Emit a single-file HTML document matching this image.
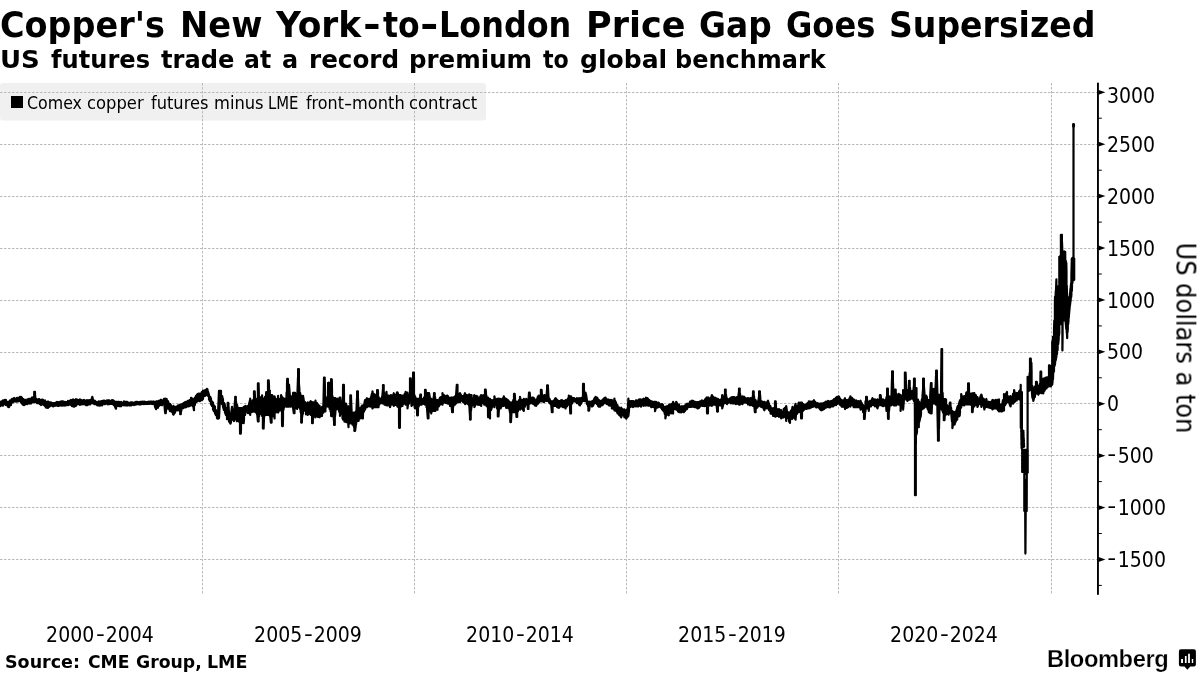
<!DOCTYPE html>
<html lang="en">
<head>
<meta charset="utf-8">
<title>Copper's New York-to-London Price Gap Goes Supersized</title>
<style>
html,body{margin:0;padding:0;background:#fff;}
body{width:1200px;height:675px;position:relative;overflow:hidden;font-family:"DejaVu Sans","Liberation Sans",sans-serif;color:#000;}
.abs{position:absolute;white-space:nowrap;line-height:1;will-change:transform;}
#title{left:0;top:7px;font-weight:bold;font-size:36px;width:1100px;height:40px;}
#subtitle{left:0;top:47.5px;font-weight:bold;font-size:24.83px;width:830px;height:28px;}
#title span,#subtitle span,#source span,#legend .tx span{position:absolute;top:0;transform-origin:0 0;white-space:nowrap;}
#legend{left:0;top:83px;width:486px;height:38px;}
#legend .sq{position:absolute;left:11px;top:13px;width:12px;height:12px;background:#000;}
#legend .tx{position:absolute;left:0;top:10.7px;width:486px;height:20px;font-family:"DejaVu Sans Condensed","DejaVu Sans","Liberation Sans",sans-serif;font-size:18px;line-height:1;white-space:nowrap;}
.ax{font-family:"DejaVu Sans Condensed","DejaVu Sans","Liberation Sans",sans-serif;font-size:21px;}
.xl{top:625px;width:212px;text-align:center;}
.xl i{font-style:normal;margin:0 2.4px;display:inline-block;transform:translateY(-1.2px) scaleX(1.3);}
.yl{left:1107px;}
.yl i{font-style:normal;margin-right:4px;display:inline-block;transform:translate(1.4px,-1.6px) scaleX(1.32);}
#ytitle{left:1184.5px;top:338.3px;font-size:26.8px;transform:translate(-50%,-50%) rotate(90deg);}
#source{left:0;top:653.5px;font-weight:bold;font-size:17.5px;width:260px;height:20px;}
#bb{left:1047px;top:648.3px;font-family:"Liberation Sans",sans-serif;font-weight:bold;font-size:23.7px;letter-spacing:-0.42px;-webkit-text-stroke:0.25px #fff;}
svg{position:absolute;left:0;top:0;}
</style>
</head>
<body>
<svg id="chart" width="1200" height="675" viewBox="0 0 1200 675">
<rect id="legendbg" x="0" y="83" width="486" height="37.6" rx="3" ry="3" fill="#f0f0f0"/>
<g id="grid" stroke="#bababa" stroke-width="1" stroke-dasharray="2.5,1.5" fill="none">
<path d="M0 92.5H1097M0 144.5H1097M0 196.5H1097M0 248.5H1097M0 300.5H1097M0 352.5H1097M0 403.5H1097M0 455.5H1097M0 507.5H1097M0 559.5H1097"/>
<path d="M202.5 83V595M414.5 83V595M626.5 83V595M838.5 83V595M1051.5 83V595"/>
</g>
<g id="axis">
<rect x="1097" y="82.7" width="1.9" height="512.1" fill="#000"/>
<path d="M1098.5 89.9L1105.4 92.3L1098.5 94.7ZM1098.5 141.8L1105.4 144.2L1098.5 146.6ZM1098.5 193.7L1105.4 196.1L1098.5 198.5ZM1098.5 245.6L1105.4 248.0L1098.5 250.4ZM1098.5 297.5L1105.4 299.9L1098.5 302.3ZM1098.5 349.4L1105.4 351.8L1098.5 354.2ZM1098.5 401.4L1105.4 403.8L1098.5 406.2ZM1098.5 453.3L1105.4 455.7L1098.5 458.1ZM1098.5 505.2L1105.4 507.6L1098.5 510.0ZM1098.5 557.1L1105.4 559.5L1098.5 561.9Z" fill="#000"/>
<path d="M1098 118.2H1101.8M1098 170.2H1101.8M1098 222.1H1101.8M1098 274.0H1101.8M1098 325.9H1101.8M1098 377.8H1101.8M1098 429.7H1101.8M1098 481.6H1101.8M1098 533.5H1101.8M1098 585.4H1101.8" stroke="#000" stroke-width="1" fill="none"/>
</g>
<polyline id="series" fill="none" stroke="#000" stroke-width="2.2" stroke-linejoin="round" stroke-linecap="round" points="0.0,401.8 0.0,406.2 1.0,405.1 1.0,401.8 2.0,401.3 2.0,405.4 3.0,405.7 3.0,400.3 4.0,400.9 4.0,404.1 5.0,404.2 5.0,399.8 6.0,400.0 6.0,405.2 7.0,405.2 7.0,401.7 8.0,402.2 8.0,406.8 9.0,407.2 9.0,401.8 10.0,400.4 10.0,405.4 11.0,405.0 11.0,400.3 12.0,399.0 12.0,402.6 13.0,402.2 13.0,398.8 14.0,398.0 14.0,401.2 15.0,401.3 15.0,398.7 16.0,398.8 16.0,401.7 17.0,401.2 17.0,397.8 18.0,398.2 18.0,401.4 19.0,401.0 19.0,397.9 20.0,396.8 20.0,400.2 21.0,402.3 21.0,396.9 22.0,397.8 22.0,403.5 23.0,404.7 23.0,398.8 24.0,399.9 24.0,405.2 25.0,404.4 25.0,399.8 26.0,400.1 26.0,403.4 27.0,404.2 27.0,399.8 28.0,399.2 28.0,403.0 29.0,403.5 29.0,398.8 30.0,398.8 30.0,403.2 31.0,403.5 31.0,399.0 32.0,397.5 32.0,402.0 33.0,402.2 33.0,397.8 34.0,396.8 34.0,402.2 34.2,401.2 34.2,391.8 35.0,391.8 35.0,401.2 35.0,400.2 35.0,394.4 35.3,396.8 35.3,402.2 36.0,402.2 36.0,398.8 37.0,399.9 37.0,403.2 38.0,403.2 38.0,399.3 39.0,399.2 39.0,402.8 40.0,404.2 40.0,399.8 41.0,400.1 41.0,405.1 42.0,403.8 42.0,399.7 43.0,399.9 43.0,404.4 44.0,405.2 44.0,400.8 45.0,400.5 45.0,406.0 46.0,407.5 46.0,402.0 47.0,401.8 47.0,407.7 48.0,407.8 48.0,401.5 49.0,402.2 49.0,407.0 50.0,406.2 50.0,402.8 51.0,402.3 51.0,405.7 52.0,405.6 52.0,403.2 53.0,403.2 53.0,406.4 54.0,406.0 54.0,403.5 55.0,402.8 55.0,405.7 56.0,405.6 56.0,402.6 57.0,401.9 57.0,405.5 58.0,405.9 58.0,402.2 59.0,402.4 59.0,405.8 60.0,405.2 60.0,401.8 61.0,401.5 61.0,405.5 62.0,405.7 62.0,401.3 63.0,401.3 63.0,404.8 64.0,405.5 64.0,402.2 65.0,401.8 65.0,405.2 66.0,405.4 66.0,402.4 67.0,401.9 67.0,404.2 68.0,405.2 68.0,400.9 69.0,401.5 69.0,404.3 70.0,404.7 70.0,400.8 71.0,399.9 71.0,404.7 72.0,406.0 72.0,400.8 73.0,399.4 73.0,406.2 74.0,406.7 74.0,399.8 75.0,400.7 75.0,406.1 76.0,405.8 76.0,399.2 77.0,399.5 77.0,404.3 78.0,404.2 78.0,399.8 79.0,400.8 79.0,403.3 80.0,404.8 80.0,399.4 81.0,399.9 81.0,404.5 82.0,404.2 82.0,400.3 83.0,400.9 83.0,404.3 84.0,403.5 84.0,399.9 85.0,400.6 85.0,404.4 86.0,405.1 86.0,401.1 87.0,400.1 87.0,405.2 88.0,404.7 88.0,400.8 89.0,400.2 89.0,403.4 90.0,404.4 90.0,400.0 91.0,400.7 91.0,403.4 91.5,403.2 91.5,399.8 92.0,397.9 92.0,402.0 92.3,402.7 92.3,396.8 93.0,399.8 93.0,403.2 94.0,404.0 94.0,400.7 95.0,400.8 95.0,404.2 96.0,404.1 96.0,401.8 97.0,402.0 97.0,405.1 98.0,405.4 98.0,401.9 99.0,401.3 99.0,405.4 100.0,405.7 100.0,401.8 101.0,401.3 101.0,404.5 102.0,405.4 102.0,401.1 103.0,400.9 103.0,404.0 104.0,404.1 104.0,400.7 105.0,400.8 105.0,404.2 106.0,403.4 106.0,401.2 107.0,400.3 107.0,403.6 108.0,404.4 108.0,400.3 109.0,400.4 109.0,404.2 110.0,403.7 110.0,400.8 111.0,401.4 111.0,403.9 112.0,403.6 112.0,400.2 113.0,400.3 113.0,404.2 114.0,405.2 114.0,400.8 115.0,402.2 115.0,406.7 116.0,408.7 116.0,401.8 117.0,401.8 117.0,406.1 118.0,405.2 118.0,401.8 119.0,401.8 119.0,406.2 120.0,406.2 120.0,402.3 121.0,401.9 121.0,406.3 122.0,405.0 122.0,402.6 123.0,402.8 123.0,404.8 124.0,405.4 124.0,401.4 125.0,401.8 125.0,405.2 126.0,405.4 126.0,401.8 127.0,401.8 127.0,405.6 128.0,404.9 128.0,402.4 129.0,402.9 129.0,405.4 130.0,405.2 130.0,402.8 131.0,402.3 131.0,405.5 132.0,405.0 132.0,402.4 133.0,402.5 133.0,404.4 134.0,405.0 134.0,402.9 135.0,402.3 135.0,404.7 136.0,404.6 136.0,401.8 137.0,401.9 137.0,404.2 138.0,403.9 138.0,402.0 139.0,402.4 139.0,404.5 140.0,404.2 140.0,401.8 141.0,402.3 141.0,404.4 142.0,403.7 142.0,401.5 143.0,401.8 143.0,403.9 144.0,404.1 144.0,401.5 145.0,401.8 145.0,403.7 146.0,404.0 146.0,402.2 147.0,402.0 147.0,404.0 148.0,403.7 148.0,401.8 149.0,401.7 149.0,404.0 150.0,403.7 150.0,401.8 151.0,401.5 151.0,403.6 152.0,403.9 152.0,402.3 153.0,401.5 153.0,404.2 154.0,404.2 154.0,401.8 155.0,401.8 155.0,406.7 156.0,409.2 156.0,401.8 157.0,401.2 157.0,407.9 158.0,407.7 158.0,401.8 159.0,400.7 159.0,405.9 160.0,405.2 160.0,400.8 161.0,399.7 161.0,404.4 162.0,405.3 162.0,400.7 163.0,400.2 163.0,403.9 164.0,404.2 164.0,398.8 164.5,398.8 164.5,405.7 165.0,411.4 165.0,400.3 165.2,398.8 165.2,413.2 165.8,413.2 165.8,398.8 166.0,399.1 166.0,411.1 166.5,405.7 166.5,398.8 167.0,400.8 167.0,407.2 168.0,408.5 168.0,401.2 169.0,404.8 169.0,408.2 170.0,411.2 170.0,403.8 171.0,405.3 171.0,410.4 172.0,412.0 172.0,406.5 173.0,407.8 173.0,414.0 173.5,414.7 173.5,405.8 174.0,407.9 174.0,413.7 175.0,412.6 175.0,407.3 176.0,406.8 176.0,410.2 177.0,410.5 177.0,406.7 178.0,405.4 178.0,410.2 179.0,408.4 179.0,405.6 179.5,404.8 179.5,409.2 180.0,411.8 180.0,406.5 180.2,404.8 180.2,414.2 180.8,414.2 180.8,404.8 181.0,407.2 181.0,412.1 181.5,409.2 181.5,404.8 182.0,404.2 182.0,408.0 183.0,408.2 183.0,403.8 184.0,402.8 184.0,407.0 185.0,407.5 185.0,402.2 186.0,401.8 186.0,407.2 187.0,406.4 187.0,402.0 188.0,400.8 188.0,406.5 189.0,406.2 189.0,400.8 190.0,399.8 190.0,405.7 191.0,405.2 191.0,397.8 192.0,398.4 192.0,405.1 193.0,406.4 193.0,399.2 193.3,399.8 193.3,406.2 194.0,410.2 194.0,399.8 194.8,397.8 194.8,405.2 195.0,403.4 195.0,398.4 196.0,395.8 196.0,402.2 197.0,401.5 197.0,394.8 198.0,393.8 198.0,400.2 199.0,401.0 199.0,393.5 200.0,393.8 200.0,401.2 201.0,398.6 201.0,394.1 202.0,391.8 202.0,400.2 203.0,398.8 203.0,390.7 204.0,390.8 204.0,396.2 205.0,396.0 205.0,390.3 206.0,389.8 206.0,395.2 207.0,394.0 207.0,388.9 207.5,389.3 207.5,394.2 208.0,395.9 208.0,391.6 209.0,394.8 209.0,399.2 210.0,401.2 210.0,396.5 211.0,398.8 211.0,404.2 212.0,405.8 212.0,401.3 213.0,402.8 213.0,409.2 214.0,411.2 214.0,405.3 215.0,406.8 215.0,413.2 216.0,415.2 216.0,410.2 217.0,411.8 217.0,418.2 218.0,418.7 218.0,413.8 219.0,390.8 219.0,418.2 220.0,399.2 220.0,390.8 221.0,390.8 221.0,397.2 222.0,404.2 222.0,395.8 223.0,399.5 223.0,406.8 224.0,410.2 224.0,402.8 225.0,405.4 225.0,412.4 226.0,415.2 226.0,407.8 227.0,411.1 227.0,419.2 227.7,419.2 227.7,402.8 228.0,403.5 228.0,418.9 228.3,419.2 228.3,402.8 229.0,412.8 229.0,421.2 230.0,422.9 230.0,416.1 230.5,417.8 230.5,423.7 231.0,421.9 231.0,414.5 232.0,406.8 232.0,419.2 233.0,419.9 233.0,409.3 234.0,410.8 234.0,421.2 234.5,419.2 234.5,407.8 235.0,400.5 235.0,414.3 235.2,419.2 235.2,396.8 235.8,396.8 235.8,419.2 236.0,414.2 236.0,401.0 236.5,407.8 236.5,419.2 237.0,421.2 237.0,404.8 238.0,410.4 238.0,416.5 238.7,420.9 238.7,408.2 239.0,408.7 239.0,420.9 239.4,422.2 239.4,408.2 240.0,412.5 240.0,427.8 240.1,433.7 240.1,408.2 240.8,408.2 240.8,433.6 241.0,428.6 241.0,410.7 241.4,408.2 241.4,422.1 241.8,423.2 241.8,408.2 242.0,409.1 242.0,419.2 243.0,419.6 243.0,408.8 243.7,407.0 243.7,423.2 244.0,419.0 244.0,410.4 245.0,406.3 245.0,414.9 245.5,412.6 245.5,405.9 246.0,407.0 246.0,411.5 247.0,411.8 247.0,406.5 248.0,405.8 248.0,413.2 249.0,411.2 249.0,404.3 250.0,400.2 250.0,412.8 250.2,414.9 250.2,398.7 251.0,403.3 251.0,412.2 252.0,412.0 252.0,401.4 253.0,403.2 253.0,411.6 253.2,411.4 253.2,399.9 253.4,399.9 253.4,411.4 254.0,407.3 254.0,395.3 254.0,391.4 254.0,411.4 254.7,411.4 254.7,391.4 255.0,397.5 255.0,407.0 255.4,411.4 255.4,399.9 255.6,399.9 255.6,412.5 256.0,411.8 256.0,401.1 257.0,403.8 257.0,414.1 257.2,414.9 257.2,398.7 257.3,398.7 257.3,414.9 257.9,421.4 257.9,383.4 258.0,393.9 258.0,411.7 258.6,421.5 258.6,383.3 259.0,399.4 259.0,416.9 259.3,415.0 259.3,398.7 259.4,398.7 259.4,414.9 260.0,413.0 260.0,399.3 261.0,397.2 261.0,413.8 262.0,409.9 262.0,401.8 262.1,395.3 262.1,416.1 262.3,416.1 262.3,398.7 262.9,398.7 262.9,428.5 263.0,421.7 263.0,401.2 263.6,398.7 263.6,428.6 264.0,417.8 264.0,398.9 264.3,398.7 264.3,416.2 264.5,416.1 264.5,398.7 265.0,397.0 265.0,413.7 266.0,413.2 266.0,396.1 266.2,392.2 266.2,414.9 267.0,413.4 267.0,399.7 267.4,394.0 267.4,414.9 268.0,410.3 268.0,390.5 268.0,380.4 268.0,414.9 268.7,414.9 268.7,380.4 269.0,385.7 269.0,409.9 269.4,414.9 269.4,392.6 269.8,390.5 269.8,416.1 270.0,409.2 270.0,397.8 270.2,395.2 270.2,416.1 270.9,422.6 270.9,395.2 271.0,399.3 271.0,413.9 271.6,422.6 271.6,395.2 272.0,401.9 272.0,414.6 272.2,416.1 272.2,395.2 272.8,396.4 272.8,416.1 273.0,413.6 273.0,400.7 274.0,402.4 274.0,413.8 274.6,418.5 274.6,396.4 275.0,401.0 275.0,412.5 276.0,412.5 276.0,398.9 277.0,400.9 277.0,411.1 278.0,409.9 278.0,396.7 278.1,395.8 278.1,412.6 279.0,410.5 279.0,400.3 280.0,398.8 280.0,406.3 281.0,407.3 281.0,399.4 281.1,395.2 281.1,410.2 281.7,411.4 281.7,396.4 282.0,399.6 282.0,420.7 282.1,426.1 282.1,397.6 282.8,397.6 282.8,426.2 283.0,418.9 283.0,402.0 283.3,398.7 283.3,410.3 284.0,407.1 284.0,400.3 284.6,398.7 284.6,406.6 285.0,406.6 285.0,399.0 286.0,399.7 286.0,405.3 286.4,406.6 286.4,398.6 286.6,392.3 286.6,406.6 287.0,399.9 287.0,384.1 287.2,378.9 287.2,406.6 287.9,406.6 287.9,378.8 288.0,384.7 288.0,398.2 288.6,406.6 288.6,392.2 289.0,385.6 289.0,406.0 289.0,406.6 289.0,384.6 290.0,397.5 290.0,406.6 290.0,403.9 290.0,398.0 291.0,398.0 291.0,403.7 291.1,406.6 291.1,396.4 292.0,398.0 292.0,405.6 293.0,405.4 293.0,394.2 293.1,392.8 293.1,407.8 293.8,413.1 293.8,392.8 294.0,395.0 294.0,407.3 294.5,413.2 294.5,392.8 295.0,397.6 295.0,404.1 295.1,407.8 295.1,392.8 296.0,396.3 296.0,407.9 297.0,408.8 297.0,397.0 297.1,395.2 297.1,409.0 297.5,406.6 297.5,391.6 298.0,377.0 298.0,399.4 298.1,406.6 298.1,369.1 298.9,369.1 298.9,406.6 299.0,406.3 299.0,384.3 299.4,389.3 299.4,406.6 300.0,408.8 300.0,392.8 300.6,395.2 300.6,411.5 301.0,413.1 301.0,397.9 301.2,396.4 301.2,422.6 301.9,422.6 301.9,396.4 302.0,398.4 302.0,417.6 302.5,413.8 302.5,396.4 303.0,398.7 303.0,410.4 303.0,413.7 303.0,395.8 304.0,401.7 304.0,410.6 305.0,410.7 305.0,402.1 306.0,404.0 306.0,414.4 307.0,411.2 307.0,404.0 307.8,402.3 307.8,414.9 308.0,412.7 308.0,404.7 309.0,405.4 309.0,412.7 310.0,414.0 310.0,402.3 310.7,401.1 310.7,414.9 311.0,412.4 311.0,403.9 311.6,402.3 311.6,415.0 312.0,415.7 312.0,403.1 312.1,402.3 312.1,423.2 312.8,423.2 312.8,402.3 313.0,406.1 313.0,419.3 313.4,416.1 313.4,402.3 314.0,402.7 314.0,413.6 315.0,416.0 315.0,405.5 315.5,400.5 315.5,417.3 316.0,416.3 316.0,405.2 317.0,403.0 317.0,413.1 318.0,416.9 318.0,404.4 319.0,406.6 319.0,415.6 319.6,417.3 319.6,405.9 320.0,409.4 320.0,415.2 321.0,416.0 321.0,408.8 322.0,407.0 322.0,416.1 322.0,413.8 322.0,408.8 323.0,406.4 323.0,412.2 323.4,412.6 323.4,405.9 324.0,377.7 324.0,411.4 324.7,411.4 324.7,377.6 325.0,391.4 325.0,405.4 325.4,411.4 325.4,401.9 325.4,397.6 325.4,409.0 326.0,405.2 326.0,398.7 326.7,397.6 326.7,405.5 327.0,404.8 327.0,399.0 327.7,396.4 327.7,406.6 328.0,401.4 328.0,393.3 328.1,382.8 328.1,406.6 328.9,406.6 328.9,382.7 329.0,391.2 329.0,403.4 329.5,406.6 329.5,396.3 329.6,396.4 329.6,409.0 330.0,406.7 330.0,396.5 330.5,396.3 330.5,411.4 331.0,405.7 331.0,388.9 331.1,379.2 331.1,416.1 331.8,416.1 331.8,379.3 332.0,389.0 332.0,414.2 332.5,416.1 332.5,396.4 332.6,396.4 332.6,412.6 333.0,412.6 333.0,397.7 333.5,398.1 333.5,414.9 334.0,421.3 334.0,399.4 334.1,398.2 334.1,425.0 334.8,425.0 334.8,398.2 335.0,403.0 335.0,416.3 335.4,412.6 335.4,398.2 336.0,398.9 336.0,408.6 337.0,409.4 337.0,398.9 337.4,398.7 337.4,409.0 338.0,408.4 338.0,399.9 339.0,399.5 339.0,410.6 339.6,412.6 339.6,397.6 340.0,403.2 340.0,415.9 340.4,412.6 340.4,397.6 341.0,403.1 341.0,412.6 342.0,413.7 342.0,404.4 342.5,402.6 342.5,418.4 343.0,417.5 343.0,389.3 343.1,384.8 343.1,419.7 343.9,419.7 343.9,384.8 344.0,393.0 344.0,416.5 344.5,421.6 344.5,402.6 345.0,405.1 345.0,416.2 346.0,421.5 346.0,407.2 346.2,403.8 346.2,422.2 347.0,421.9 347.0,409.5 348.0,406.3 348.0,420.6 348.5,427.2 348.5,406.3 349.0,412.5 349.0,420.3 349.8,423.4 349.8,408.8 350.0,408.5 350.0,419.1 350.3,422.2 350.3,395.4 351.0,395.4 351.0,422.2 351.0,417.3 351.0,397.5 351.6,411.2 351.6,423.4 352.0,421.0 352.0,413.2 352.5,412.6 352.5,424.7 353.0,424.7 353.0,413.7 353.8,412.6 353.8,425.9 354.0,427.1 354.0,416.2 354.4,412.6 354.4,430.9 355.0,430.2 355.0,418.0 355.1,412.6 355.1,430.9 355.8,425.4 355.8,412.6 356.0,411.3 356.0,424.7 356.5,420.9 356.5,409.3 357.0,398.1 357.0,416.6 357.1,420.9 357.1,391.3 357.9,391.3 357.9,420.9 358.0,417.4 358.0,398.5 358.5,409.3 358.5,420.9 358.8,419.7 358.8,407.6 359.0,408.5 359.0,418.7 360.0,418.4 360.0,408.8 361.0,407.6 361.0,413.1 361.5,413.4 361.5,406.3 362.0,406.9 362.0,416.9 362.1,418.4 362.1,405.7 362.9,405.7 362.9,418.4 363.0,413.4 363.0,408.8 363.5,405.1 363.5,412.2 364.0,411.2 364.0,405.7 365.0,400.1 365.0,409.7 366.0,405.5 366.0,399.9 366.9,398.2 366.9,407.2 367.0,406.6 367.0,399.1 368.0,399.5 368.0,406.5 369.0,405.4 369.0,398.8 370.0,398.8 370.0,406.6 371.0,406.5 371.0,397.6 372.0,393.4 372.0,406.1 372.5,408.4 372.5,391.3 373.0,395.0 373.0,407.6 374.0,406.6 374.0,394.0 375.0,395.1 375.0,407.2 376.0,405.4 376.0,397.8 376.5,396.9 376.5,407.2 377.0,404.0 377.0,395.4 377.1,390.1 377.1,407.2 377.9,407.2 377.9,390.1 378.0,391.7 378.0,405.9 378.5,407.2 378.5,396.9 379.0,398.3 379.0,405.0 380.0,403.4 380.0,398.8 381.0,398.6 381.0,402.6 382.0,402.6 382.0,397.1 382.2,396.3 382.2,403.4 382.4,403.4 382.4,395.6 383.0,388.7 383.0,397.7 383.0,403.4 383.0,385.1 383.7,385.1 383.7,403.4 384.0,399.8 384.0,392.4 384.4,395.7 384.4,403.5 384.5,404.7 384.5,395.1 385.0,394.5 385.0,402.8 386.0,405.0 386.0,395.7 386.5,391.9 386.5,405.3 387.0,404.9 387.0,396.4 388.0,395.4 388.0,405.4 389.0,404.3 389.0,396.5 390.0,395.7 390.0,407.2 391.0,403.3 391.0,395.2 392.0,396.0 392.0,404.5 393.0,404.7 393.0,396.1 393.8,393.2 393.8,405.9 394.0,403.3 394.0,394.3 395.0,395.3 395.0,405.0 396.0,405.0 396.0,395.8 397.0,392.5 397.0,405.4 397.5,406.6 397.5,392.3 398.0,393.9 398.0,406.2 398.5,407.2 398.5,395.1 399.0,401.8 399.0,419.6 399.1,427.8 399.1,395.1 399.9,395.1 399.9,427.8 400.0,416.4 400.0,403.1 400.5,395.1 400.5,407.2 401.0,403.2 401.0,395.4 402.0,398.8 402.0,406.0 402.5,405.9 402.5,395.7 403.0,398.2 403.0,404.3 404.0,401.8 404.0,395.6 405.0,393.6 405.0,402.9 405.6,404.7 405.6,391.9 406.0,396.1 406.0,402.4 407.0,402.7 407.0,394.6 407.5,392.6 407.5,408.4 408.0,404.4 408.0,396.9 409.0,395.0 409.0,402.3 409.2,403.4 409.2,395.1 409.4,394.9 409.4,400.9 410.0,399.5 410.0,382.1 410.0,378.3 410.0,400.9 410.7,400.9 410.7,378.3 411.0,385.6 411.0,398.3 411.4,401.1 411.4,395.1 411.5,395.1 411.5,405.9 412.0,403.8 412.0,394.9 412.5,393.8 412.5,404.7 413.0,400.7 413.0,383.3 413.1,372.6 413.1,404.7 413.9,404.7 413.9,372.6 414.0,380.0 414.0,399.7 414.5,404.7 414.5,395.0 414.6,396.2 414.6,407.1 415.0,408.4 415.0,396.3 416.0,399.2 416.0,405.0 416.5,406.8 416.5,398.8 417.0,401.3 417.0,408.7 417.1,415.3 417.1,398.8 417.9,398.8 417.9,415.3 418.0,409.9 418.0,403.2 418.5,398.8 418.5,406.8 419.0,405.6 419.0,399.3 419.6,398.8 419.6,404.7 420.0,402.6 420.0,398.7 420.3,394.5 420.3,404.7 421.0,404.7 421.0,394.5 421.0,396.6 421.0,403.5 421.6,404.7 421.6,398.8 422.0,398.8 422.0,403.5 423.0,402.7 423.0,399.7 423.1,398.8 423.1,403.5 424.0,403.9 424.0,397.6 424.4,397.5 424.4,404.1 425.0,403.8 425.0,393.6 425.0,389.9 425.0,404.7 425.7,404.7 425.7,389.9 426.0,393.5 426.0,400.9 426.4,404.8 426.4,396.3 426.5,395.1 426.5,407.2 427.0,404.6 427.0,398.1 427.1,393.2 427.1,409.3 427.8,418.4 427.8,393.2 428.0,393.5 428.0,418.0 428.5,418.4 428.5,393.2 429.0,394.7 429.0,408.7 429.1,409.4 429.1,393.2 430.0,398.6 430.0,410.5 431.0,412.6 431.0,400.7 431.2,398.8 431.2,413.4 432.0,409.6 432.0,399.4 433.0,401.4 433.0,409.0 433.4,410.9 433.4,399.4 434.0,395.5 434.0,408.3 434.0,410.9 434.0,393.2 434.7,393.2 434.7,410.9 435.0,409.3 435.0,396.8 435.4,399.4 435.4,410.9 436.0,407.6 436.0,402.2 437.0,400.1 437.0,409.6 437.5,409.7 437.5,400.1 438.0,401.9 438.0,406.9 439.0,406.1 439.0,400.6 440.0,397.6 440.0,404.7 441.0,404.0 441.0,397.0 442.0,396.8 442.0,403.4 442.5,404.7 442.5,393.2 443.0,395.8 443.0,401.0 444.0,402.5 444.0,395.0 445.0,396.7 445.0,401.2 446.0,402.8 446.0,396.1 447.0,395.7 447.0,401.3 447.5,403.4 447.5,395.7 448.0,396.2 448.0,403.7 449.0,403.7 449.0,398.3 450.0,397.6 450.0,405.9 451.0,404.8 451.0,399.3 451.5,397.6 451.5,405.3 452.0,410.3 452.0,400.8 452.1,397.6 452.1,412.2 452.9,412.2 452.9,397.6 453.0,398.4 453.0,407.8 453.5,405.3 453.5,397.6 454.0,397.3 454.0,404.3 455.0,404.7 455.0,396.3 456.0,397.1 456.0,401.7 456.1,403.5 456.1,395.1 456.8,384.9 456.8,402.2 457.0,401.4 457.0,386.4 457.5,384.9 457.5,402.2 458.0,400.0 458.0,393.7 458.1,394.4 458.1,402.2 458.2,402.2 458.2,393.8 459.0,394.5 459.0,401.9 460.0,402.2 460.0,393.2 461.0,395.3 461.0,400.9 462.0,400.0 462.0,396.0 463.0,396.1 463.0,401.9 464.0,402.7 464.0,395.9 465.0,393.2 465.0,404.1 466.0,403.1 466.0,394.6 467.0,397.1 467.0,401.8 468.0,404.1 468.0,395.0 469.0,395.7 469.0,404.5 469.2,405.9 469.2,394.4 469.4,395.1 469.4,406.7 470.0,416.2 470.0,398.1 470.0,395.1 470.0,419.6 470.7,419.6 470.7,395.1 471.0,396.2 471.0,410.7 471.4,406.6 471.4,395.1 471.5,395.1 471.5,407.2 472.0,405.1 472.0,398.1 473.0,398.3 473.0,405.0 474.0,404.2 474.0,395.7 474.4,395.1 474.4,407.2 475.0,405.7 475.0,398.5 476.0,395.8 476.0,404.2 477.0,403.5 477.0,397.7 477.5,396.3 477.5,404.7 478.0,403.0 478.0,398.8 479.0,398.2 479.0,405.0 480.0,403.0 480.0,397.2 481.0,395.4 481.0,405.6 481.2,405.9 481.2,395.1 482.0,397.5 482.0,402.6 483.0,403.2 483.0,395.3 484.0,395.5 484.0,402.5 484.2,404.7 484.2,395.1 484.4,395.6 484.4,404.7 485.0,403.5 485.0,392.8 485.0,389.5 485.0,404.7 485.7,404.7 485.7,389.5 486.0,393.0 486.0,401.6 486.4,404.7 486.4,395.7 486.5,396.3 486.5,405.9 487.0,406.3 487.0,398.8 488.0,399.8 488.0,414.3 488.1,417.2 488.1,397.5 489.0,404.2 489.0,413.6 490.0,418.4 490.0,398.8 491.0,401.5 491.0,410.2 491.9,407.2 491.9,400.0 492.0,401.6 492.0,405.5 493.0,406.0 493.0,401.0 494.0,399.6 494.0,405.0 494.4,407.2 494.4,396.3 495.0,399.8 495.0,404.8 496.0,405.1 496.0,400.5 497.0,398.8 497.0,408.4 497.1,408.4 497.1,398.8 497.8,398.8 497.8,416.5 498.0,412.9 498.0,404.2 498.5,398.8 498.5,416.5 499.0,407.5 499.0,400.7 499.1,398.8 499.1,408.5 499.2,408.4 499.2,398.8 500.0,401.3 500.0,407.1 500.6,408.4 500.6,398.8 501.0,399.8 501.0,407.7 502.0,404.3 502.0,400.0 503.0,398.1 503.0,406.0 503.8,405.9 503.8,396.3 504.0,397.2 504.0,404.8 505.0,404.0 505.0,398.4 506.0,398.7 506.0,406.7 506.2,407.8 506.2,398.8 507.0,399.8 507.0,406.0 508.0,408.0 508.0,400.2 508.8,401.3 508.8,407.2 509.0,408.5 509.0,402.2 509.6,402.5 509.6,409.7 510.0,412.7 510.0,405.2 510.3,402.6 510.3,422.1 511.0,422.1 511.0,402.6 511.0,402.8 511.0,421.1 511.6,411.0 511.6,402.6 511.8,402.6 511.8,412.2 512.0,411.5 512.0,402.7 513.0,401.4 513.0,409.5 513.2,412.2 513.2,400.1 513.4,400.6 513.4,412.2 514.0,410.9 514.0,397.5 514.0,393.9 514.0,412.2 514.7,412.2 514.7,393.9 515.0,397.6 515.0,410.8 515.4,412.2 515.4,400.7 515.5,401.3 515.5,412.2 515.9,411.5 515.9,401.9 516.0,402.5 516.0,409.9 516.5,416.9 516.5,401.9 517.0,403.4 517.0,414.3 517.2,416.9 517.2,401.9 517.9,401.9 517.9,411.4 518.0,409.8 518.0,404.2 519.0,400.2 519.0,407.3 520.0,409.7 520.0,396.9 521.0,401.1 521.0,408.7 522.0,406.6 522.0,400.1 523.0,400.3 523.0,409.8 523.8,410.9 523.8,398.8 524.0,399.0 524.0,406.8 525.0,406.7 525.0,401.1 526.0,399.7 526.0,404.4 526.2,404.7 526.2,398.8 527.0,399.9 527.0,404.7 527.1,404.0 527.1,400.0 527.8,400.1 527.8,409.0 528.0,406.4 528.0,401.3 528.4,399.4 528.4,403.7 528.5,409.0 528.5,400.0 529.0,392.9 529.0,402.1 529.0,403.5 529.0,392.6 529.1,399.7 529.1,403.9 529.7,403.4 529.7,392.6 530.0,396.4 530.0,401.4 530.4,403.4 530.4,399.4 530.5,398.8 530.5,403.4 531.0,402.6 531.0,399.0 532.0,397.6 532.0,402.9 532.5,403.4 532.5,397.6 533.0,397.6 533.0,403.8 534.0,404.4 534.0,398.2 535.0,400.1 535.0,405.4 536.0,405.8 536.0,400.8 536.2,400.1 536.2,405.9 537.0,403.9 537.0,399.6 538.0,396.4 538.0,403.6 538.8,402.2 538.8,395.7 539.0,396.7 539.0,402.3 540.0,401.5 540.0,395.6 540.2,396.3 540.2,400.9 540.9,400.9 540.9,389.8 541.0,392.7 541.0,397.9 541.6,400.9 541.6,389.8 542.0,395.5 542.0,401.1 542.2,401.6 542.2,395.7 543.0,395.5 543.0,400.7 544.0,402.2 544.0,396.1 544.4,395.1 544.4,401.6 545.0,400.9 545.0,395.9 546.0,395.4 546.0,400.2 546.5,400.9 546.5,396.3 547.0,390.1 547.0,398.8 547.1,400.9 547.1,385.3 547.9,385.3 547.9,400.9 548.0,400.2 548.0,388.2 548.5,397.6 548.5,400.9 549.0,402.3 549.0,398.1 550.0,400.1 550.0,403.4 551.0,404.7 551.0,401.5 551.2,401.3 551.2,404.7 551.9,412.2 551.9,401.3 552.0,401.4 552.0,410.8 552.6,412.2 552.6,401.3 553.0,402.4 553.0,406.2 553.2,405.9 553.2,401.3 554.0,400.3 554.0,405.9 555.0,405.4 555.0,399.0 555.6,398.2 555.6,405.9 556.0,405.4 556.0,398.7 557.0,400.1 557.0,407.1 558.0,407.5 558.0,400.6 558.8,401.3 558.8,407.2 559.0,407.8 559.0,401.0 560.0,401.6 560.0,406.5 561.0,406.3 561.0,400.3 562.0,400.2 562.0,406.2 562.5,406.6 562.5,400.7 563.0,401.1 563.0,407.2 564.0,407.2 564.0,401.0 565.0,402.1 565.0,405.9 565.6,408.4 565.6,400.1 566.0,401.8 566.0,406.0 567.0,406.4 567.0,400.6 568.0,398.5 568.0,402.9 568.8,404.7 568.8,395.7 569.0,398.0 569.0,402.0 569.6,404.7 569.6,396.3 570.0,399.5 570.0,407.4 570.3,413.4 570.3,396.3 571.0,396.3 571.0,413.4 571.0,412.1 571.0,396.8 571.6,397.5 571.6,403.5 572.0,403.6 572.0,398.2 573.0,398.0 573.0,401.8 573.8,400.9 573.8,398.2 574.0,398.2 574.0,400.4 575.0,401.6 575.0,398.8 576.0,399.0 576.0,401.6 577.0,403.2 577.0,398.1 577.5,398.8 577.5,402.8 578.0,402.4 578.0,398.5 579.0,398.2 579.0,404.6 580.0,405.3 580.0,398.8 581.0,398.0 581.0,403.9 582.0,401.3 582.0,397.5 582.5,397.6 582.5,400.9 583.0,398.9 583.0,387.1 583.1,383.8 583.1,400.9 583.9,400.9 583.9,383.8 584.0,389.9 584.0,400.5 584.5,400.9 584.5,396.4 584.6,395.1 584.6,400.9 585.0,401.2 585.0,393.5 585.6,392.6 585.6,400.9 586.0,401.2 586.0,394.2 586.9,400.1 586.9,403.5 587.0,404.1 587.0,400.7 587.8,401.9 587.8,404.6 588.0,406.5 588.0,401.9 588.4,401.9 588.4,410.7 589.0,410.3 589.0,404.5 589.1,401.9 589.1,410.7 589.8,404.6 589.8,401.9 590.0,401.6 590.0,405.1 591.0,405.3 591.0,402.1 591.9,401.3 591.9,406.6 592.0,405.9 592.0,401.2 593.0,400.9 593.0,405.9 594.0,403.2 594.0,399.3 595.0,397.7 595.0,403.2 595.6,402.2 595.6,396.9 596.0,398.2 596.0,401.8 597.0,404.1 597.0,397.7 598.0,399.3 598.0,405.8 598.8,406.6 598.8,400.1 599.0,400.1 599.0,406.5 600.0,406.7 600.0,400.8 601.0,401.4 601.0,405.2 601.9,405.3 601.9,400.7 602.0,400.3 602.0,404.3 603.0,404.6 603.0,399.7 604.0,398.3 604.0,403.0 605.0,403.2 605.0,397.8 605.6,397.6 605.6,402.8 606.0,403.1 606.0,398.8 607.0,399.6 607.0,404.2 608.0,403.8 608.0,399.4 608.8,400.1 608.8,405.3 609.0,404.7 609.0,400.9 610.0,399.8 610.0,405.7 611.0,405.2 611.0,401.8 611.9,400.0 611.9,408.5 612.0,406.6 612.0,401.4 613.0,402.0 613.0,408.7 614.0,407.8 614.0,402.2 614.4,398.6 614.4,410.3 615.0,410.7 615.0,400.6 616.0,402.7 616.0,410.1 617.0,412.0 617.0,406.0 617.5,405.1 617.5,413.4 618.0,413.0 618.0,407.9 619.0,407.4 619.0,414.7 620.0,415.7 620.0,409.6 621.0,410.2 621.0,415.5 621.2,417.4 621.2,407.6 622.0,409.7 622.0,415.7 623.0,414.8 623.0,409.3 624.0,411.7 624.0,415.1 624.4,417.2 624.4,409.4 625.0,411.2 625.0,417.4 626.0,417.7 626.0,412.2 626.2,410.1 626.2,418.7 627.0,417.1 627.0,411.7 627.5,408.8 627.5,417.2 628.0,412.9 628.0,405.4 628.4,398.6 628.4,415.9 629.0,410.4 629.0,400.6 630.0,401.9 630.0,407.2 631.0,406.5 631.0,401.2 632.0,401.0 632.0,406.4 633.0,407.0 633.0,401.1 633.8,401.3 633.8,406.6 634.0,406.0 634.0,401.3 635.0,402.0 635.0,405.5 636.0,406.5 636.0,400.3 637.0,400.5 637.0,405.5 637.5,405.9 637.5,400.7 638.0,400.9 638.0,406.6 639.0,405.1 639.0,399.6 640.0,399.4 640.0,405.9 641.0,406.6 641.0,399.7 642.0,399.9 642.0,405.4 643.0,404.7 643.0,399.1 643.8,398.6 643.8,405.9 644.0,404.5 644.0,399.1 645.0,399.2 645.0,404.1 646.0,405.5 646.0,397.7 647.0,398.7 647.0,404.4 647.5,404.7 647.5,398.2 648.0,399.5 648.0,405.6 649.0,405.7 649.0,399.9 650.0,400.8 650.0,405.5 651.0,406.5 651.0,402.0 651.2,401.3 651.2,407.2 652.0,406.7 652.0,401.5 653.0,402.2 653.0,406.7 654.0,407.2 654.0,401.9 655.0,401.9 655.0,411.2 656.0,407.2 656.0,401.9 657.0,402.7 657.0,407.6 658.0,407.3 658.0,403.3 658.8,402.6 658.8,406.6 659.0,406.8 659.0,403.6 660.0,404.3 660.0,406.7 661.0,407.9 661.0,404.6 662.0,404.1 662.0,409.3 662.5,409.7 662.5,405.1 663.0,404.9 663.0,410.4 664.0,411.2 664.0,407.4 664.4,406.9 664.4,412.2 665.0,414.4 665.0,409.1 665.4,406.9 665.4,418.4 666.0,415.2 666.0,408.8 666.4,406.3 666.4,414.7 667.0,414.7 667.0,407.7 668.0,405.8 668.0,413.7 668.8,415.3 668.8,405.1 669.0,406.5 669.0,413.9 670.0,412.4 670.0,404.3 671.0,405.3 671.0,413.5 672.0,412.5 672.0,403.8 673.0,402.9 673.0,413.3 673.1,413.5 673.1,401.9 674.0,405.0 674.0,409.2 675.0,408.6 675.0,403.9 676.0,403.0 676.0,407.9 676.2,409.7 676.2,401.9 677.0,403.3 677.0,408.4 678.0,411.5 678.0,404.9 679.0,404.5 679.0,412.1 680.0,412.2 680.0,406.3 681.0,407.4 681.0,412.5 682.0,411.3 682.0,406.0 683.0,407.7 683.0,411.7 683.8,412.2 683.8,406.9 684.0,406.1 684.0,411.9 685.0,410.7 685.0,405.6 686.0,404.4 686.0,409.6 687.0,409.0 687.0,403.9 687.5,403.8 687.5,407.8 688.0,407.2 688.0,403.9 689.0,403.6 689.0,406.8 690.0,407.0 690.0,401.7 691.0,402.1 691.0,407.0 691.2,406.6 691.2,401.1 692.0,400.6 692.0,406.7 693.0,406.4 693.0,400.9 694.0,401.7 694.0,407.0 695.0,407.2 695.0,401.9 696.0,402.2 696.0,407.2 697.0,407.7 697.0,402.1 697.5,402.6 697.5,408.4 698.0,408.3 698.0,402.1 699.0,402.1 699.0,407.8 700.0,406.4 700.0,401.4 701.0,401.4 701.0,405.0 701.2,405.3 701.2,401.3 702.0,400.3 702.0,405.8 703.0,405.9 703.0,401.3 704.0,400.8 704.0,406.1 705.0,405.9 705.0,399.4 706.0,398.7 706.0,403.8 706.5,405.9 706.5,397.6 707.0,397.8 707.0,411.2 707.1,413.4 707.1,397.6 707.9,397.6 707.9,413.4 708.0,410.3 708.0,400.8 708.5,397.6 708.5,405.9 709.0,403.5 709.0,399.7 710.0,398.6 710.0,405.5 711.0,402.9 711.0,398.0 711.9,395.1 711.9,405.9 712.0,405.6 712.0,396.7 713.0,396.6 713.0,404.6 714.0,404.6 714.0,398.6 715.0,397.6 715.0,404.7 716.0,405.0 716.0,398.1 716.5,398.8 716.5,404.7 717.0,408.9 717.0,400.6 717.1,398.8 717.1,411.6 717.9,411.6 717.9,398.8 718.0,399.9 718.0,407.1 718.5,404.7 718.5,399.4 719.0,400.5 719.0,405.3 720.0,404.7 720.0,400.1 721.0,399.4 721.0,405.7 722.0,404.3 722.0,396.8 722.2,395.1 722.2,408.4 723.0,405.5 723.0,397.8 724.0,397.7 724.0,403.6 724.4,402.8 724.4,396.2 725.0,393.8 725.0,401.0 725.0,402.8 725.0,389.5 725.7,389.5 725.7,402.8 726.0,401.4 726.0,394.6 726.4,397.6 726.4,403.4 727.0,404.1 727.0,398.3 727.5,400.1 727.5,403.4 728.0,402.5 728.0,400.5 729.0,399.1 729.0,402.3 730.0,402.5 730.0,398.4 731.0,398.6 731.0,403.5 731.2,402.8 731.2,397.6 732.0,397.2 732.0,402.9 733.0,403.4 733.0,397.2 734.0,397.2 734.0,403.3 735.0,403.4 735.0,397.6 736.0,398.1 736.0,404.2 737.0,401.8 737.0,397.2 738.0,398.8 738.0,403.9 738.4,404.1 738.4,396.2 739.0,391.2 739.0,400.9 739.0,404.7 739.0,388.6 739.7,388.6 739.7,404.7 740.0,400.7 740.0,393.4 740.4,396.3 740.4,404.1 741.0,403.6 741.0,397.5 742.0,397.7 742.0,402.5 742.5,404.1 742.5,396.3 743.0,397.5 743.0,402.4 744.0,402.7 744.0,396.7 745.0,398.0 745.0,402.3 746.0,402.0 746.0,399.5 746.2,398.8 746.2,402.8 747.0,402.4 747.0,398.4 748.0,398.2 748.0,404.6 749.0,404.2 749.0,399.2 750.0,398.2 750.0,405.3 751.0,404.8 751.0,398.1 752.0,399.6 752.0,405.3 752.4,405.3 752.4,398.7 753.0,395.2 753.0,402.3 753.0,405.9 753.0,391.4 753.7,391.4 753.7,406.0 754.0,404.7 754.0,395.9 754.4,400.1 754.4,407.2 754.9,412.2 754.9,400.1 755.0,400.9 755.0,409.9 755.6,412.2 755.6,400.1 756.0,402.1 756.0,409.0 756.2,407.2 756.2,401.3 757.0,402.2 757.0,407.8 757.5,407.2 757.5,401.3 758.0,401.6 758.0,406.1 758.5,405.9 758.5,400.1 759.0,396.7 759.0,404.8 759.1,405.3 759.1,391.3 759.9,391.3 759.9,405.3 760.0,405.5 760.0,394.1 760.5,400.7 760.5,406.6 761.0,406.3 761.0,401.4 761.9,401.3 761.9,407.2 762.0,406.9 762.0,402.2 763.0,403.2 763.0,406.7 764.0,409.6 764.0,401.9 764.4,401.9 764.4,410.3 765.0,408.2 765.0,402.3 766.0,403.0 766.0,407.3 767.0,408.4 767.0,402.4 768.0,400.7 768.0,407.3 768.1,407.2 768.1,401.3 769.0,403.8 769.0,410.0 770.0,411.0 770.0,405.5 770.6,406.9 770.6,413.4 771.0,413.8 771.0,408.0 772.0,409.4 772.0,413.7 773.0,414.6 773.0,409.7 773.1,408.2 773.1,415.9 774.0,415.3 774.0,409.1 774.4,408.1 774.4,416.0 775.0,413.4 775.0,403.9 775.0,401.4 775.0,416.6 775.7,416.6 775.7,401.4 776.0,406.7 776.0,414.6 776.4,415.9 776.4,408.8 777.0,409.0 777.0,415.4 778.0,415.9 778.0,409.7 778.8,409.4 778.8,415.9 779.0,416.8 779.0,409.2 780.0,410.0 780.0,415.4 781.0,417.8 781.0,411.6 781.2,410.1 781.2,418.4 782.0,416.7 782.0,411.7 783.0,411.8 783.0,417.6 783.8,417.2 783.8,408.8 784.0,409.7 784.0,416.1 785.0,417.0 785.0,407.8 786.0,408.5 786.0,416.3 786.2,420.9 786.2,406.1 787.0,411.7 787.0,418.3 788.0,417.8 788.0,412.0 789.0,413.1 789.0,421.2 790.0,422.8 790.0,412.6 791.0,410.7 791.0,418.1 792.0,419.0 792.0,409.6 792.5,406.9 792.5,418.4 793.0,417.4 793.0,407.3 794.0,409.6 794.0,415.0 795.0,418.7 795.0,405.5 795.6,403.8 795.6,419.7 796.0,414.0 796.0,406.5 797.0,406.4 797.0,414.0 798.0,410.8 798.0,406.1 798.8,402.6 798.8,412.2 799.0,411.7 799.0,405.4 800.0,405.2 800.0,409.3 800.5,412.2 800.5,402.6 801.0,403.5 801.0,415.3 801.1,418.4 801.1,402.6 801.9,402.6 801.9,418.4 802.0,414.9 802.0,403.1 802.5,403.8 802.5,410.9 803.0,410.8 803.0,403.8 804.0,405.4 804.0,409.8 805.0,408.4 805.0,405.1 806.0,404.6 806.0,408.8 807.0,408.8 807.0,403.6 808.0,402.9 808.0,407.9 808.8,408.4 808.8,401.3 809.0,403.0 809.0,407.3 810.0,408.1 810.0,401.6 811.0,401.5 811.0,407.6 812.0,406.3 812.0,401.8 813.0,401.3 813.0,406.9 813.8,405.9 813.8,400.7 814.0,400.2 814.0,406.0 815.0,406.4 815.0,401.5 816.0,403.1 816.0,407.3 817.0,407.3 817.0,403.7 817.5,403.2 817.5,407.2 818.0,406.7 818.0,403.3 819.0,404.2 819.0,407.6 820.0,409.3 820.0,403.7 821.0,403.7 821.0,410.1 821.2,410.3 821.2,404.4 822.0,403.4 822.0,410.1 823.0,409.5 823.0,403.6 824.0,402.8 824.0,409.1 825.0,407.8 825.0,402.6 826.0,401.6 826.0,407.7 827.0,407.0 827.0,402.4 828.0,400.9 828.0,406.8 828.8,407.2 828.8,401.3 829.0,401.3 829.0,407.1 830.0,407.4 830.0,402.0 831.0,400.9 831.0,405.9 832.0,406.4 832.0,401.7 832.5,400.7 832.5,405.9 833.0,406.4 833.0,400.8 834.0,399.2 834.0,405.6 835.0,404.1 835.0,399.6 835.6,398.2 835.6,404.7 836.0,405.1 836.0,397.6 837.0,397.0 837.0,404.1 838.0,402.6 838.0,397.6 838.5,396.3 838.5,403.4 839.0,403.0 839.0,396.7 840.0,399.2 840.0,404.8 841.0,405.2 841.0,399.7 841.2,400.1 841.2,405.9 842.0,406.9 842.0,400.2 843.0,401.5 843.0,405.2 844.0,406.9 844.0,400.3 845.0,398.2 845.0,409.1 846.0,406.9 846.0,399.8 847.0,400.7 847.0,407.9 847.5,407.2 847.5,401.3 848.0,399.8 848.0,407.1 849.0,405.3 849.0,399.7 850.0,397.4 850.0,404.0 850.4,406.6 850.4,396.3 851.0,399.2 851.0,405.2 852.0,404.7 852.0,397.8 853.0,400.7 853.0,405.3 853.8,407.2 853.8,399.4 854.0,399.8 854.0,405.1 855.0,407.2 855.0,401.2 856.0,400.3 856.0,407.2 857.0,407.2 857.0,401.3 857.5,401.9 857.5,407.2 858.0,407.1 858.0,401.1 859.0,401.6 859.0,407.3 860.0,406.7 860.0,402.2 860.6,400.7 860.6,409.7 861.0,408.1 861.0,402.1 862.0,403.6 862.0,408.7 863.0,410.3 863.0,405.3 863.1,405.0 863.1,412.2 863.4,411.6 863.4,406.3 864.0,407.7 864.0,415.9 864.0,419.0 864.0,406.3 864.7,406.3 864.7,419.0 865.0,413.6 865.0,407.9 865.4,406.1 865.4,411.5 865.5,410.9 865.5,401.3 866.0,401.2 866.0,406.2 866.1,408.4 866.1,396.9 866.9,396.9 866.9,408.4 867.0,407.6 867.0,399.6 867.5,401.5 867.5,408.4 868.0,408.7 868.0,403.8 868.8,401.9 868.8,410.9 869.0,408.0 869.0,404.3 870.0,401.0 870.0,406.5 871.0,406.5 871.0,401.9 872.0,399.2 872.0,405.0 872.5,404.7 872.5,398.2 873.0,399.2 873.0,405.1 874.0,405.1 874.0,399.6 875.0,399.4 875.0,406.5 876.0,405.0 876.0,400.0 877.0,400.9 877.0,407.3 877.5,408.4 877.5,399.4 878.0,401.2 878.0,406.9 879.0,404.7 879.0,400.2 879.2,399.7 879.2,404.7 879.9,404.7 879.9,395.1 880.0,396.9 880.0,401.8 880.6,404.7 880.6,395.1 881.0,397.9 881.0,405.3 881.2,404.7 881.2,399.7 882.0,400.7 882.0,405.4 883.0,406.2 883.0,399.3 883.8,400.1 883.8,405.9 884.0,405.2 884.0,400.8 885.0,400.4 885.0,405.6 886.0,404.9 886.0,399.6 886.2,398.8 886.2,407.2 886.5,410.9 886.5,397.3 887.0,396.3 887.0,408.5 887.1,410.9 887.1,388.6 887.9,388.6 887.9,410.9 888.0,417.6 888.0,401.8 888.0,396.1 888.0,418.8 888.7,419.0 888.7,396.3 889.0,397.1 889.0,411.2 889.4,407.2 889.4,396.3 890.0,397.3 890.0,405.4 891.0,405.1 891.0,399.2 891.2,396.3 891.2,405.3 891.5,404.7 891.5,395.1 892.0,378.5 892.0,402.7 892.1,404.7 892.1,371.3 892.9,371.3 892.9,404.7 893.0,402.6 893.0,382.9 893.5,395.1 893.5,404.7 893.8,405.3 893.8,393.8 894.0,393.8 894.0,403.3 894.4,405.3 894.4,393.8 895.0,391.6 895.0,404.1 895.0,405.3 895.0,389.5 895.7,389.5 895.7,405.3 896.0,402.4 896.0,393.5 896.4,393.8 896.4,405.3 897.0,402.9 897.0,395.8 898.0,395.8 898.0,401.9 898.8,404.7 898.8,393.8 899.0,397.6 899.0,404.3 900.0,404.8 900.0,396.2 900.6,395.0 900.6,410.9 901.0,407.0 901.0,396.0 902.0,396.3 902.0,406.3 903.0,404.6 903.0,396.3 903.1,390.1 903.1,409.7 904.0,398.8 904.0,390.6 904.2,390.1 904.2,398.4 904.9,394.7 904.9,372.6 905.0,376.0 905.0,390.7 905.6,394.7 905.6,372.6 906.0,385.0 906.0,396.5 906.2,399.7 906.2,390.1 907.0,392.5 907.0,398.7 907.5,400.9 907.5,390.1 908.0,391.4 908.0,399.6 908.5,399.7 908.5,391.3 909.0,383.1 909.0,398.6 909.0,399.7 909.0,380.8 909.7,380.8 909.7,399.7 910.0,398.9 910.0,387.5 910.4,391.3 910.4,399.1 911.0,398.6 911.0,391.5 911.9,391.3 911.9,398.5 912.0,396.9 912.0,391.5 913.0,391.1 913.0,398.2 913.4,399.7 913.4,390.6 914.0,384.8 914.0,397.8 914.0,401.2 914.0,378.6 914.8,378.6 914.8,401.2 915.0,439.2 915.0,388.8 915.0,388.8 915.0,495.2 915.8,495.2 915.8,388.8 915.9,388.8 915.9,444.2 916.0,427.6 916.0,391.5 916.5,388.2 916.5,434.2 917.0,431.9 917.0,402.7 918.0,399.6 918.0,424.2 918.8,427.2 918.8,401.3 919.0,407.7 919.0,422.8 920.0,419.0 920.0,406.3 920.6,402.6 920.6,417.2 921.0,414.0 921.0,404.4 922.0,399.0 922.0,408.0 922.5,409.2 922.5,395.8 923.0,389.5 923.0,401.6 923.1,408.2 923.1,378.6 923.9,378.6 923.9,408.2 924.0,404.5 924.0,386.8 924.5,393.8 924.5,407.2 925.0,404.5 925.0,397.2 926.0,398.4 926.0,403.8 926.2,406.6 926.2,395.7 927.0,397.5 927.0,406.9 928.0,409.6 928.0,401.3 928.8,400.1 928.8,412.2 929.0,412.3 929.0,400.1 930.0,399.5 930.0,408.0 930.2,413.2 930.2,395.8 930.9,383.2 930.9,413.4 931.0,412.2 931.0,392.6 931.6,383.2 931.6,413.4 932.0,404.6 932.0,391.4 932.2,388.8 932.2,404.2 933.0,401.9 933.0,391.8 933.8,388.8 933.8,403.4 934.0,398.9 934.0,393.2 935.0,389.0 935.0,400.5 935.5,404.2 935.5,388.8 936.0,376.0 936.0,404.2 936.1,404.7 936.1,370.7 936.9,370.7 936.9,404.7 937.0,399.2 937.0,379.6 937.4,393.8 937.4,409.2 938.0,436.6 938.0,408.6 938.0,394.8 938.0,440.7 938.8,440.7 938.8,394.8 939.0,398.4 939.0,429.1 939.4,411.2 939.4,394.8 940.0,396.3 940.0,407.8 941.0,409.2 941.0,390.8 941.5,349.1 941.5,409.2 942.0,403.3 942.0,356.3 942.1,349.1 942.1,409.2 942.6,411.2 942.6,392.8 943.0,401.5 943.0,408.4 943.1,412.7 943.1,399.0 943.8,399.0 943.8,420.2 944.0,417.5 944.0,400.9 944.5,399.0 944.5,420.2 945.0,410.2 945.0,401.9 945.1,399.0 945.1,412.7 946.0,412.5 946.0,404.1 946.1,399.5 946.1,414.6 947.0,412.4 947.0,405.0 948.0,407.7 948.0,414.2 948.6,414.6 948.6,407.1 949.0,407.9 949.0,413.9 949.2,412.6 949.2,408.8 949.9,402.6 949.9,412.6 950.0,409.7 950.0,404.4 950.5,402.6 950.5,412.6 951.0,412.1 951.0,407.4 951.2,408.8 951.2,412.6 952.0,421.7 952.0,410.8 952.4,411.1 952.4,428.2 953.0,424.4 953.0,411.5 954.0,412.4 954.0,422.9 954.7,424.6 954.7,412.1 955.0,412.7 955.0,423.1 956.0,420.6 956.0,411.6 957.0,409.0 957.0,419.8 957.2,419.6 957.2,407.6 958.0,405.8 958.0,414.7 959.0,416.4 959.0,404.3 959.7,401.1 959.7,415.6 960.0,411.8 960.0,400.5 961.0,399.3 961.0,407.7 961.2,407.5 961.2,394.0 962.0,398.0 962.0,405.1 963.0,403.5 963.0,396.6 964.0,397.1 964.0,405.5 964.3,405.5 964.3,396.0 965.0,396.6 965.0,403.0 966.0,403.6 966.0,395.3 966.3,392.5 966.3,404.5 967.0,401.1 967.0,395.8 967.6,391.8 967.6,404.5 968.0,401.8 968.0,391.7 968.1,383.4 968.1,404.5 968.9,404.5 968.9,383.4 969.0,390.9 969.0,400.2 969.4,404.5 969.4,392.8 970.0,394.2 970.0,404.4 970.3,404.5 970.3,394.0 971.0,394.5 971.0,404.5 971.5,405.2 971.5,393.8 972.0,393.5 972.0,412.1 972.0,410.0 972.0,393.9 972.6,393.5 972.6,412.1 973.0,406.9 973.0,397.0 973.2,393.3 973.2,406.2 974.0,406.4 974.0,395.3 974.3,393.0 974.3,406.5 975.0,402.7 975.0,394.8 976.0,395.2 976.0,404.8 977.0,404.3 977.0,399.2 977.4,397.0 977.4,407.0 978.0,405.7 978.0,399.1 979.0,398.8 979.0,404.1 980.0,403.3 980.0,398.2 981.0,395.1 981.0,403.3 981.4,407.0 981.4,394.5 982.0,397.1 982.0,404.8 983.0,405.2 983.0,398.3 984.0,399.3 984.0,407.3 984.4,409.5 984.4,400.0 985.0,400.4 985.0,407.6 986.0,405.8 986.0,400.2 986.4,399.0 986.4,407.0 987.0,406.3 987.0,401.7 988.0,401.7 988.0,407.3 989.0,407.4 989.0,402.6 989.4,403.1 989.4,407.5 990.0,407.9 990.0,401.9 991.0,402.8 991.0,407.9 992.0,408.7 992.0,401.1 992.5,400.0 992.5,409.5 993.0,408.9 993.0,400.1 994.0,400.9 994.0,408.4 995.0,408.2 995.0,401.0 995.5,400.0 995.5,408.5 996.0,408.4 996.0,401.0 997.0,399.9 997.0,408.5 998.0,410.3 998.0,399.8 999.0,399.5 999.0,411.5 1000.0,408.8 1000.0,404.4 1001.0,405.2 1001.0,411.4 1002.0,411.5 1002.0,405.1 1003.0,400.2 1003.0,410.8 1004.0,410.5 1004.0,394.0 1005.0,396.1 1005.0,405.1 1006.0,403.3 1006.0,394.0 1007.0,392.0 1007.0,402.5 1008.0,401.9 1008.0,396.3 1009.0,396.8 1009.0,401.7 1010.0,405.6 1010.0,398.1 1010.6,396.0 1010.6,406.5 1011.0,402.9 1011.0,396.7 1012.0,396.8 1012.0,402.1 1013.0,403.7 1013.0,393.9 1014.0,393.1 1014.0,400.0 1014.1,402.5 1014.1,390.0 1015.0,394.2 1015.0,401.6 1016.0,400.1 1016.0,393.9 1016.7,393.0 1016.7,400.5 1017.0,398.6 1017.0,393.8 1018.0,393.0 1018.0,397.5 1019.0,399.3 1019.0,393.7 1019.2,391.0 1019.2,399.5 1020.0,397.1 1020.0,392.2 1020.2,389.8 1020.2,399.2 1020.7,399.2 1020.7,384.9 1020.7,385.0 1020.8,428.0 1021.9,392.0 1021.9,429.0 1021.2,430.0 1023.4,430.8 1021.2,431.6 1023.5,432.4 1021.3,433.2 1023.6,434.0 1021.3,434.8 1023.6,435.6 1021.3,436.4 1023.7,437.2 1021.3,438.0 1023.8,438.8 1021.4,439.6 1023.9,440.4 1021.4,441.2 1023.9,442.0 1021.4,442.8 1024.0,443.6 1021.4,444.4 1024.1,445.2 1021.5,446.0 1024.1,446.8 1021.5,447.6 1022.1,449.5 1027.8,450.2 1022.1,450.9 1027.8,451.6 1022.1,452.3 1027.8,453.0 1022.1,453.7 1027.8,454.4 1022.1,455.1 1027.8,455.8 1022.1,456.5 1027.8,457.2 1022.1,457.9 1027.8,458.6 1022.1,459.3 1027.8,460.0 1022.1,460.7 1027.8,461.4 1022.1,462.1 1027.8,462.8 1022.1,463.5 1027.8,464.2 1022.1,464.9 1027.8,465.6 1022.1,466.3 1027.8,467.0 1022.1,467.7 1027.8,468.4 1022.1,469.1 1027.8,469.8 1022.1,470.5 1027.8,471.2 1022.1,471.9 1027.8,472.6 1024.3,474.0 1024.3,511.0 1025.4,480.0 1025.2,512.0 1025.4,553.6 1025.7,512.0 1026.7,511.0 1026.8,474.0 1027.6,449.0 1027.6,377.0 1027.6,376.8 1027.6,391.2 1028.4,388.9 1028.4,378.8 1028.9,376.8 1028.9,390.9 1029.2,388.2 1029.2,379.4 1029.7,372.8 1029.7,390.2 1030.0,384.7 1030.0,364.1 1030.0,358.5 1030.0,389.7 1030.8,389.7 1030.8,358.5 1030.8,359.3 1030.8,380.6 1031.4,389.6 1031.4,362.8 1031.6,371.9 1031.6,387.9 1032.3,397.2 1032.3,385.8 1032.4,387.5 1032.4,397.4 1033.2,399.7 1033.2,392.0 1033.3,392.5 1033.3,400.9 1034.0,398.2 1034.0,391.4 1034.8,386.8 1034.8,397.2 1035.4,393.4 1035.4,386.5 1035.6,385.8 1035.6,391.7 1036.0,393.4 1036.0,381.8 1036.4,382.5 1036.4,391.7 1036.8,393.4 1036.8,381.8 1037.2,386.5 1037.2,393.3 1037.4,393.4 1037.4,386.5 1038.0,388.8 1038.0,392.3 1038.3,394.7 1038.3,386.2 1038.8,388.0 1038.8,393.9 1039.6,390.8 1039.6,384.8 1039.9,383.8 1039.9,393.2 1040.4,391.4 1040.4,377.7 1040.5,371.7 1040.5,392.2 1041.2,392.2 1041.2,371.7 1041.2,373.3 1041.2,391.6 1041.7,393.2 1041.7,380.8 1042.0,381.4 1042.0,392.2 1042.8,393.2 1042.8,380.1 1043.3,378.6 1043.3,393.4 1043.6,390.5 1043.6,380.1 1044.4,379.7 1044.4,390.8 1045.2,388.7 1045.2,377.9 1046.0,379.4 1046.0,385.6 1046.5,388.4 1046.5,377.4 1046.8,378.1 1046.8,387.8 1047.6,384.9 1047.6,378.5 1048.4,376.8 1048.4,386.7 1049.0,385.8 1049.0,365.4 1049.2,371.1 1049.2,385.3 1049.7,385.8 1049.7,365.4 1050.0,375.5 1050.0,385.9 1050.1,386.2 1050.1,375.8 1050.8,379.8 1050.8,383.6 1050.9,386.5 1050.9,377.4 1051.6,365.8 1051.6,385.2 1051.6,365.8 1051.6,385.2 1052.2,380.3 1052.2,344.1 1052.2,341.8 1052.2,384.6 1052.7,380.4 1052.7,342.5 1053.0,336.8 1053.0,379.2 1053.2,372.8 1053.2,336.9 1053.8,336.4 1053.8,371.8 1054.0,371.2 1054.0,330.8 1054.3,320.5 1054.3,366.4 1054.9,364.7 1054.9,304.7 1055.0,296.8 1055.0,364.2 1055.5,358.4 1055.5,298.7 1055.8,290.8 1055.8,360.2 1056.0,358.5 1056.0,290.9 1056.4,279.3 1056.4,357.2 1056.5,352.0 1056.5,287.6 1057.0,290.8 1057.0,354.2 1057.1,346.8 1057.1,293.0 1057.6,290.8 1057.6,350.2 1057.7,346.0 1057.7,296.9 1058.2,286.8 1058.2,344.2 1058.7,339.2 1058.7,285.8 1058.8,289.5 1058.8,336.4 1059.3,333.2 1059.3,256.8 1059.8,262.8 1059.8,322.6 1060.3,324.2 1060.3,255.8 1060.4,259.1 1060.4,316.1 1060.9,321.2 1060.9,234.8 1061.0,241.2 1061.0,319.2 1061.5,313.8 1061.5,236.8 1061.9,234.8 1061.9,321.2 1062.0,324.2 1062.0,241.9 1062.4,252.8 1062.4,350.5 1062.6,336.1 1062.6,253.6 1062.9,253.8 1062.9,321.2 1063.2,315.1 1063.2,255.0 1063.6,251.8 1063.6,311.2 1063.7,309.9 1063.7,255.9 1064.2,251.5 1064.2,315.6 1064.4,317.2 1064.4,251.4 1064.8,253.2 1064.8,313.8 1065.2,321.2 1065.2,251.8 1065.3,260.7 1065.3,316.1 1065.8,324.2 1065.8,260.8 1065.9,262.6 1065.9,324.7 1066.3,329.2 1066.3,262.8 1066.5,271.5 1066.5,327.9 1066.8,333.2 1066.8,285.8 1067.0,296.2 1067.0,334.3 1067.2,338.1 1067.2,300.8 1067.5,301.3 1067.5,332.5 1067.8,329.2 1067.8,300.8 1068.1,300.2 1068.1,324.3 1068.5,321.2 1068.5,298.8 1068.7,299.4 1068.7,318.2 1069.2,312.2 1069.2,297.3 1069.3,296.8 1069.3,311.2 1069.8,305.9 1069.8,295.5 1070.0,292.8 1070.0,305.2 1070.3,302.3 1070.3,290.4 1070.6,287.8 1070.6,301.2 1070.8,298.8 1070.8,286.1 1071.2,282.8 1071.2,297.2 1071.4,294.3 1071.4,275.3 1071.8,258.8 1071.8,291.2 1072.0,287.0 1072.0,259.3 1072.4,257.8 1072.4,283.2 1072.5,281.8 1072.5,258.8 1073.0,259.3 1073.0,278.7 1073.1,280.2 1073.1,257.8 1073.6,258.8 1073.6,278.6 1073.8,280.2 1073.8,258.3 1074.2,258.8 1074.2,278.3 1074.2,279.7 1074.2,258.8 1073.5,262.0 1073.5,124.2"/>
<ellipse id="tipdot" cx="1073.55" cy="125.4" rx="1.55" ry="2.4" fill="#000"/>
<g id="bbicon">
<path d="M1180.9 649.3H1193.9Q1195.9 649.3 1195.9 651.3V664.4Q1195.9 666.4 1193.9 666.4H1190.3L1187.4 669.8L1184.5 666.4H1180.9Q1178.9 666.4 1178.9 664.4V651.3Q1178.9 649.3 1180.9 649.3Z" fill="#000"/>
<path d="M1181.1 658.9H1183V662.9H1181.1ZM1184.9 656.1H1186.6V663.1H1184.9ZM1188.1 653.7H1189.9V663.1H1188.1ZM1191.8 658.9H1193.2V663.1H1191.8Z" fill="#fff"/>
</g>
</svg>
<div class="abs" id="legend"><span class="sq"></span><span class="tx"><span style="left:26.52px;transform:scaleX(0.9773)">Comex</span> <span style="left:87.09px;transform:scaleX(1.0118)">copper</span> <span style="left:151.0px;transform:scaleX(1.0018)">futures</span> <span style="left:213.59px;transform:scaleX(1.0064)">minus</span> <span style="left:268.17px;transform:scaleX(0.9167)">LME</span> <span style="left:306.0px;transform:scaleX(0.9868)">front</span><span style="left:344.19px;transform:scaleX(1.4125)">-</span><span style="left:352.1px;transform:scaleX(1.0)">month</span> <span style="left:408.99px;transform:scaleX(1.0136)">contract</span></span></div>
<div class="abs" id="title"><span style="left:0.14px;transform:scaleX(0.9305)">Copper's</span> <span style="left:179.94px;transform:scaleX(0.938)">New</span> <span style="left:276.25px;transform:scaleX(0.9551)">York</span><span style="left:362.62px;transform:scaleX(1.1909)">-</span><span style="left:382.5px;transform:scaleX(0.875)">to</span><span style="left:419.53px;transform:scaleX(1.2364)">-</span><span style="left:439.24px;transform:scaleX(0.8854)">London</span> <span style="left:585.83px;transform:scaleX(0.9727)">Price</span> <span style="left:698.77px;transform:scaleX(0.9132)">Gap</span> <span style="left:786.32px;transform:scaleX(0.8922)">Goes</span> <span style="left:889.14px;transform:scaleX(0.9196)">Supersized</span></div>
<div class="abs" id="subtitle"><span style="left:-0.19px;transform:scaleX(1.0471)">US</span> <span style="left:50.6px;transform:scaleX(0.9718)">futures</span> <span style="left:160.6px;transform:scaleX(0.9716)">trade</span> <span style="left:244.05px;transform:scaleX(0.9481)">at</span> <span style="left:281.79px;transform:scaleX(0.9643)">a</span> <span style="left:308.62px;transform:scaleX(0.992)">record</span> <span style="left:408.63px;transform:scaleX(0.9868)">premium</span> <span style="left:542.5px;transform:scaleX(0.8929)">to</span> <span style="left:579.59px;transform:scaleX(1.0096)">global</span> <span style="left:674.97px;transform:scaleX(0.9662)">benchmark</span></div>
<div class="abs ax yl" style="top:86px">3000</div>
<div class="abs ax yl" style="top:134.8px">2500</div>
<div class="abs ax yl" style="top:186.7px">2000</div>
<div class="abs ax yl" style="top:238.6px">1500</div>
<div class="abs ax yl" style="top:290.5px">1000</div>
<div class="abs ax yl" style="top:342.4px">500</div>
<div class="abs ax yl" style="top:394.3px">0</div>
<div class="abs ax yl" style="top:446.2px"><i>-</i>500</div>
<div class="abs ax yl" style="top:498.1px"><i>-</i>1000</div>
<div class="abs ax yl" style="top:550.0px"><i>-</i>1500</div>
<div class="abs ax xl" style="left:-5.7px">2000<i>-</i>2004</div>
<div class="abs ax xl" style="left:201.8px">2005<i>-</i>2009</div>
<div class="abs ax xl" style="left:413.9px">2010<i>-</i>2014</div>
<div class="abs ax xl" style="left:626.1px">2015<i>-</i>2019</div>
<div class="abs ax xl" style="left:838.1px">2020<i>-</i>2024</div>
<div class="abs ax" id="ytitle">US dollars a ton</div>
<div class="abs" id="source"><span style="left:5.0px;transform:scaleX(1.0)">Source:</span> <span style="left:87.82px;transform:scaleX(0.9825)">CME</span> <span style="left:135.91px;transform:scaleX(0.9859)">Group,</span> <span style="left:207.41px;transform:scaleX(0.9959)">LME</span></div>
<div class="abs" id="bb">Bloomberg</div>
</body>
</html>
